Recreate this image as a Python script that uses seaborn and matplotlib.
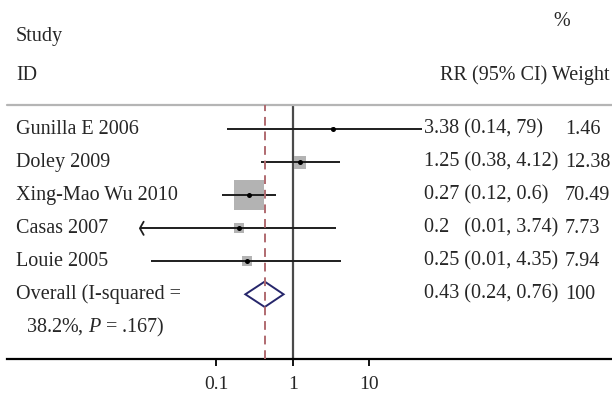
import numpy as np
import pandas as pd
import matplotlib
matplotlib.use("Agg")
import matplotlib.pyplot as plt
import seaborn as sns

# ---- data ----
studies = ["Gunilla E 2006", "Doley 2009", "Xing-Mao Wu 2010", "Casas 2007", "Louie 2005"]
rr = [3.38, 1.25, 0.27, 0.2, 0.25]
ci_lo = [0.14, 0.38, 0.12, 0.008, 0.014]
ci_hi = [79, 4.12, 0.6, 3.74, 4.35]
weights = [1.46, 12.38, 70.49, 7.73, 7.94]
ci_text = ["3.38 (0.14, 79)", "1.25 (0.38, 4.12)", "0.27 (0.12, 0.6)",
           "0.2   (0.01, 3.74)", "0.25 (0.01, 4.35)"]
weight_text = ["1.46", "12.38", "70.49", "7.73", "7.94"]
overall_rr, overall_lo, overall_hi = 0.43, 0.24, 0.76
overall_text = "0.43 (0.24, 0.76)"
overall_weight = "100"
tick_vals = [0.1, 1, 10]
tick_labels = ["0.1", "1", "10"]
clip_lo, clip_hi = 0.01, 49.0

sns.set_style("white")
plt.rcParams["font.family"] = ["Liberation Serif", "DejaVu Serif"]
plt.rcParams["mathtext.fontset"] = "custom"
plt.rcParams["mathtext.rm"] = "Liberation Serif"
plt.rcParams["mathtext.it"] = "Liberation Serif:italic"

W, H = 612, 398
fig = plt.figure(figsize=(W / 100, H / 100), dpi=100)
ax_left, ax_right = 7, 612
ax_top, ax_bot = 104.7, 359
ax = fig.add_axes([ax_left / W, 1 - ax_bot / H, (ax_right - ax_left) / W, (ax_bot - ax_top) / H])

x0, row_step = 129.3, 33.0
ax.set_xscale("log")
px_one, px_dec = 292.7, 76.4
ax.set_xlim(10 ** ((ax_left - px_one) / px_dec), 10 ** ((ax_right - px_one) / px_dec))
ax.set_ylim((ax_bot - x0) / row_step, (ax_top - x0) / row_step)

df = pd.DataFrame({"study": studies, "rr": rr, "lo": ci_lo, "hi": ci_hi,
                   "w": weights, "row": np.arange(len(studies))})

# reference lines
ax.axvline(1, color="#4a4a4a", lw=1.6, zorder=1)
ax.axvline(overall_rr, color="#b06a70", lw=1.4, ls=(0, (4.5, 3)), zorder=4)

# boxes
sns.scatterplot(data=df, x="rr", y="row", size="w", sizes=(0, 470), size_norm=(0, 70.49),
                marker="s", color="#b3b3b3", linewidth=0, legend=False, ax=ax, zorder=2)

# CI lines
for _, r in df.iterrows():
    lo = max(r["lo"], clip_lo)
    hi = min(r["hi"], clip_hi)
    ax.hlines(r["row"], lo, hi, color="#1e1e1e", lw=1.4, zorder=3)
    if r["lo"] < clip_lo:
        ax.plot([lo * 1.12, lo, lo * 1.12], [r["row"] - 0.2, r["row"], r["row"] + 0.2],
                color="#1e1e1e", lw=1.3, zorder=3)

# point estimates
sns.scatterplot(data=df, x="rr", y="row", s=13, color="black", linewidth=0,
                legend=False, ax=ax, zorder=5)

# overall diamond
orow = len(studies)
dh = 0.385
ax.fill([overall_lo, overall_rr, overall_hi, overall_rr, overall_lo],
        [orow, orow - dh, orow, orow + dh, orow], facecolor="white",
        edgecolor="#26266b", lw=1.4, zorder=3)

# axes style
for s in ["left", "top", "right"]:
    ax.spines[s].set_visible(False)
ax.spines["bottom"].set_color("black")
ax.spines["bottom"].set_linewidth(1.6)
ax.axhline(ax.get_ylim()[1], color="#b5b5b5", lw=1.6, clip_on=False)
ax.set_yticks([])
ax.set_xticks(tick_vals)
ax.set_xticklabels(tick_labels)
ax.xaxis.set_minor_locator(matplotlib.ticker.NullLocator())
ax.tick_params(axis="x", direction="out", length=5, width=1.3, pad=7, labelsize=14,
               bottom=True, color="black")
ax.set_xlabel("")
ax.set_ylabel("")

# text columns
tr = ax.get_yaxis_transform()
def fx(px):
    return (px - ax_left) / (ax_right - ax_left)
def fy(py):
    return (py - x0) / row_step

fs = 14.5
for i in range(len(studies)):
    ax.text(fx(16), i, studies[i], transform=tr, fontsize=fs, va="center", ha="left")
    ax.text(fx(424), i, ci_text[i], transform=tr, fontsize=fs, va="center", ha="left")
    ax.text(fx(565), i, weight_text[i], transform=tr, fontsize=fs, va="center", ha="left")
ax.text(fx(16), orow, "Overall (I-squared =", transform=tr, fontsize=fs, va="center", ha="left")
ax.text(fx(26), orow + 1, "38.2%, $P$ = .167)", transform=tr, fontsize=fs, va="center", ha="left")
ax.text(fx(424), orow, overall_text, transform=tr, fontsize=fs, va="center", ha="left")
ax.text(fx(565), orow, overall_weight, transform=tr, fontsize=fs, va="center", ha="left")

# headers
ax.text(fx(16), fy(37), "Study", transform=tr, fontsize=fs, va="center", ha="left")
ax.text(fx(16), fy(75), "ID", transform=tr, fontsize=fs, va="center", ha="left")
ax.text(fx(609), fy(75), "RR (95% CI) Weight", transform=tr, fontsize=fs, va="center", ha="right")
ax.text(fx(562), fy(21), "%", transform=tr, fontsize=fs, va="center", ha="center")

fig.savefig("out.png", dpi=100)
